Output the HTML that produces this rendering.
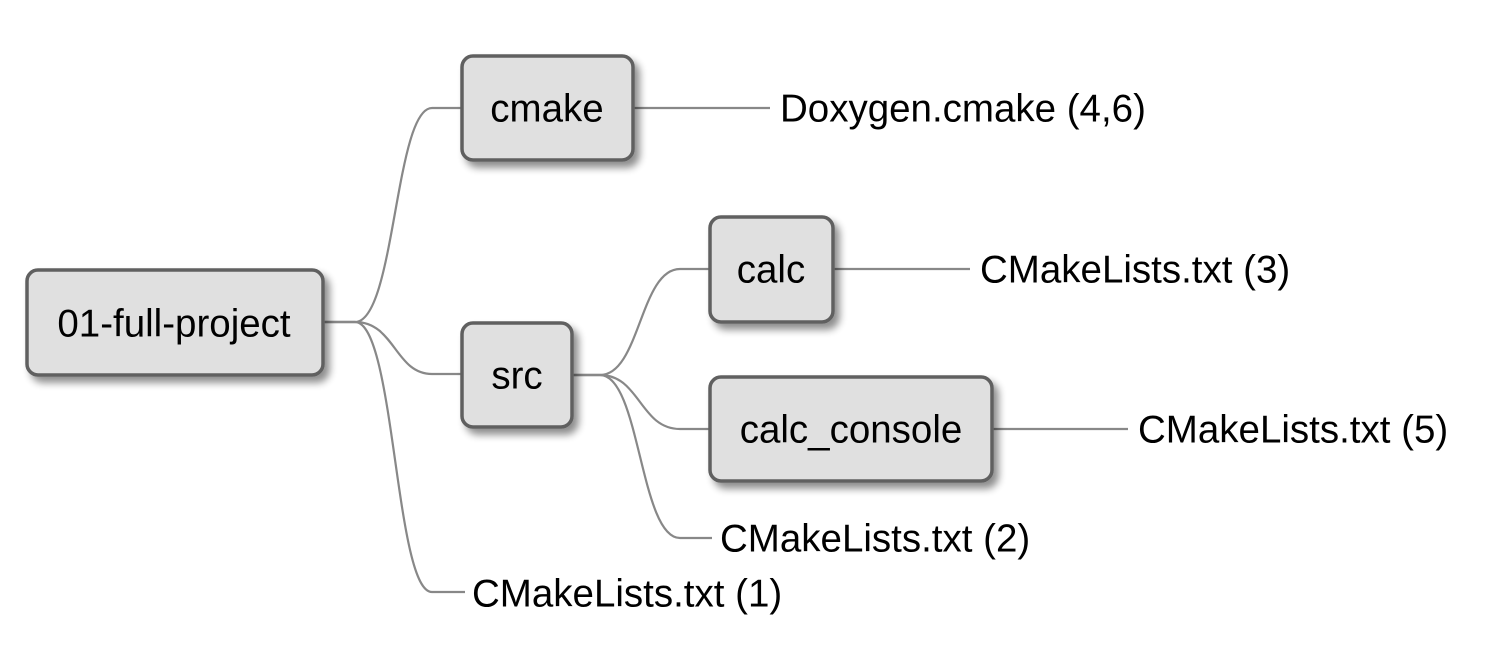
<!DOCTYPE html>
<html><head><style>
html,body{margin:0;padding:0;background:#fff;width:1486px;height:650px;overflow:hidden}
svg text{font-family:"Liberation Sans",sans-serif;font-size:38.5px;fill:#000;dominant-baseline:central}
</style></head><body>
<svg width="1486" height="650" viewBox="0 0 1486 650">
<defs><filter id="sh" x="-20%" y="-20%" width="150%" height="150%"><feGaussianBlur in="SourceAlpha" stdDeviation="4"/><feOffset dx="5" dy="6"/><feComponentTransfer><feFuncA type="linear" slope="0.45"/></feComponentTransfer><feMerge><feMergeNode/><feMergeNode in="SourceGraphic"/></feMerge></filter></defs>
<g fill="none" stroke="#888" stroke-width="2.2">
<path d="M323 322 H355 C395 322 395 108 432 108 H462"/>
<path d="M323 322 H355 C395 322 395 374 432 374 H462"/>
<path d="M323 322 H355 C395 322 395 592 432 592 H465"/>
<path d="M572 375 H600 C640 375 640 269 680 269 H710"/>
<path d="M572 375 H600 C640 375 640 429 680 429 H710"/>
<path d="M572 375 H600 C640 375 640 538 680 538 H712"/>
<path d="M633 108 H770"/>
<path d="M833 269 H970"/>
<path d="M992 429 H1128"/>
</g>
<g fill="#e0e0e0" stroke="#606060" stroke-width="3.5" filter="url(#sh)">
<rect x="27" y="270" width="296" height="105" rx="11"/>
<rect x="462" y="56" width="171" height="104" rx="11"/>
<rect x="462" y="323" width="110" height="104" rx="11"/>
<rect x="710" y="217" width="123" height="105" rx="11"/>
<rect x="710" y="377" width="282" height="104" rx="11"/>
</g>
<text x="174" y="324" text-anchor="middle">01-full-project</text>
<text x="547" y="109" text-anchor="middle">cmake</text>
<text x="517" y="376" text-anchor="middle">src</text>
<text x="771" y="270" text-anchor="middle">calc</text>
<text x="851" y="430" text-anchor="middle">calc_console</text>
<text x="780" y="109">Doxygen.cmake (4,6)</text>
<text x="980" y="270">CMakeLists.txt (3)</text>
<text x="1138" y="430">CMakeLists.txt (5)</text>
<text x="720" y="539">CMakeLists.txt (2)</text>
<text x="472" y="594">CMakeLists.txt (1)</text>
</svg>
</body></html>
